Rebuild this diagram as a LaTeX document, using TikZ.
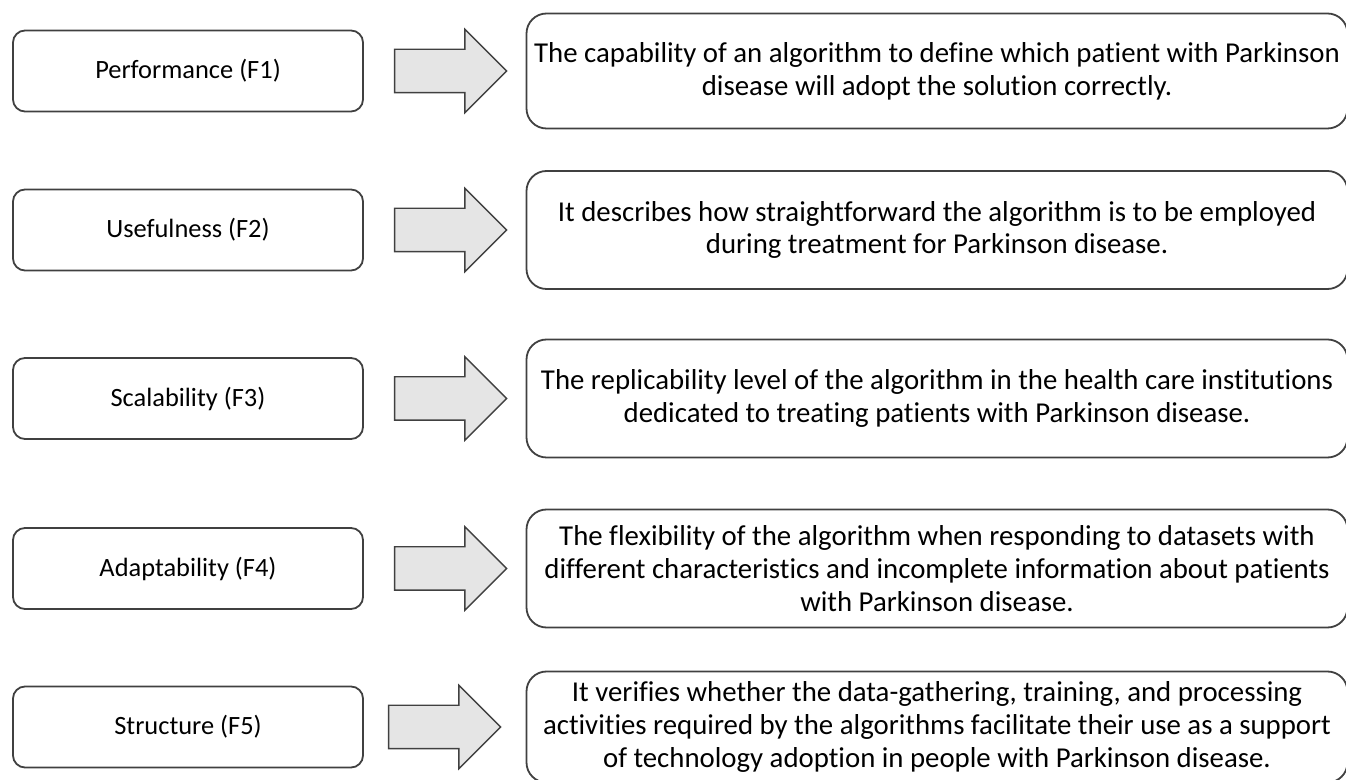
\documentclass[tikz,border=0pt]{standalone}
\usepackage{fontspec}
\setmainfont{Carlito}[Ligatures=NoCommon]
\usetikzlibrary{shapes, arrows.meta, positioning, calc}

\begin{document}
\begin{tikzpicture}[x=0.5pt, y=-0.5pt,
    factor/.style={draw=black!75, line width=0.9pt, rounded corners=6pt, minimum width=175pt, minimum height=40.5pt, font=\fontsize{13.2}{16}\selectfont},
    meaning/.style={draw=black!75, line width=0.9pt, rounded corners=10pt, minimum width=410.5pt, minimum height=59pt, align=center, font=\fontsize{14.4}{16.4}\selectfont},
    bigarrow/.style={single arrow, draw=black!75, fill=black!10, line width=0.7pt, minimum height=56pt, inner xsep=0pt, inner ysep=10.5pt, single arrow head extend=10pt, single arrow tip angle=90}]
  \useasboundingbox (0,0) rectangle (1346,780);

  \node[factor] (f1) at (188,71) {Performance (F1)};
  \node[bigarrow, right=15pt of f1] (a1) {};
  \node[meaning, minimum height=57.5pt, right=9pt of a1] (d1) {The capability of an algorithm to define which patient with Parkinson\\disease will adopt the solution correctly.};

  \node[factor] (f2) at (188,230) {Usefulness (F2)};
  \node[bigarrow, right=15pt of f2] (a2) {};
  \node[meaning, right=9pt of a2] (d2) {It describes how straightforward the algorithm is to be employed\\during treatment for Parkinson disease.};

  \node[factor] (f3) at (188,398.5) {Scalability (F3)};
  \node[bigarrow, right=15pt of f3] (a3) {};
  \node[meaning, right=9pt of a3] (d3) {The replicability level of the algorithm in the health care institutions\\dedicated to treating patients with Parkinson disease.};

  \node[factor] (f4) at (188,568.5) {Adaptability (F4)};
  \node[bigarrow, right=15pt of f4] (a4) {};
  \node[meaning, right=9pt of a4] (d4) {The flexibility of the algorithm when responding to datasets with\\different characteristics and incomplete information about patients\\with Parkinson disease.};

  \node[factor] (f5) at (188,727) {Structure (F5)};
  \node[bigarrow, right=12pt of f5] (a5) {};
  \node[meaning, minimum height=55.5pt, right=12pt of a5] (d5) {It verifies whether the data-gathering, training, and processing\\activities required by the algorithms facilitate their use as a support\\of technology adoption in people with Parkinson disease.};
\end{tikzpicture}
\end{document}
